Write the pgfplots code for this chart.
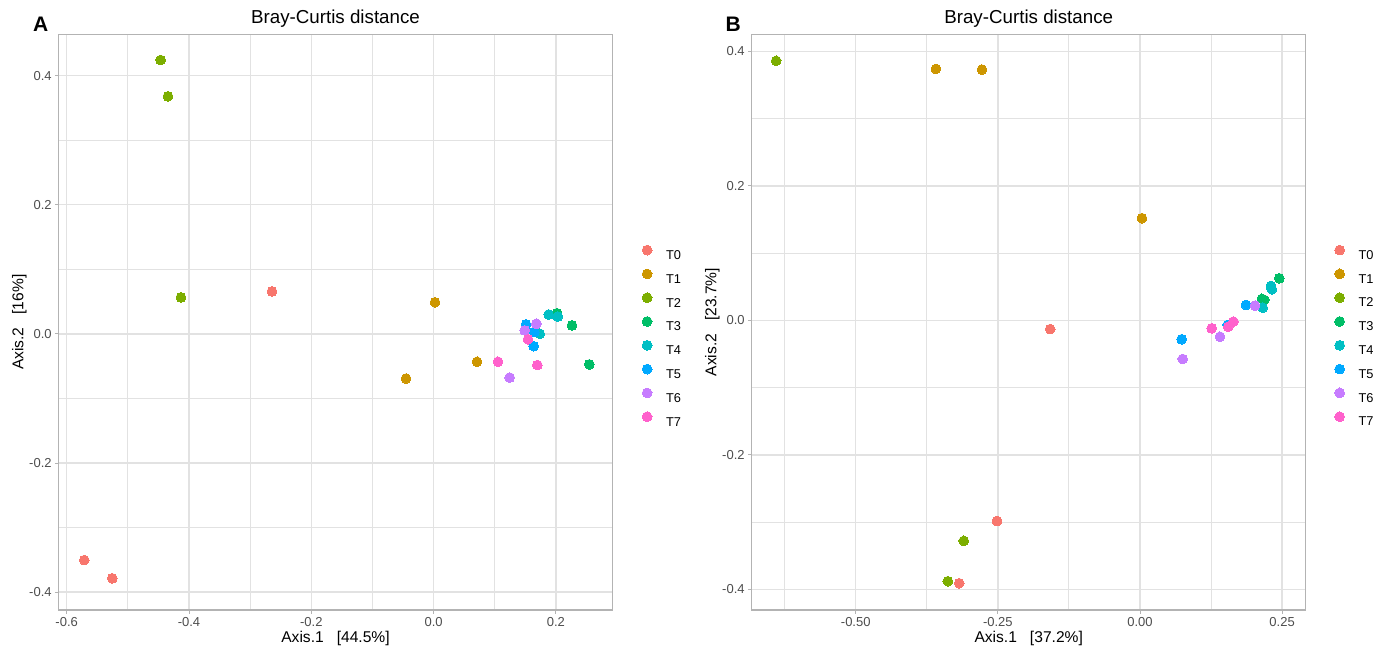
\documentclass[border=0pt]{standalone}
\usepackage{fontspec}
\setmainfont{Liberation Sans}
\usepackage{pgfplots}
\pgfplotsset{compat=1.18}
\definecolor{cT0}{HTML}{F8766D}
\definecolor{cT1}{HTML}{CD9600}
\definecolor{cT2}{HTML}{7CAE00}
\definecolor{cT3}{HTML}{00BE67}
\definecolor{cT4}{HTML}{00BFC4}
\definecolor{cT5}{HTML}{00A9FF}
\definecolor{cT6}{HTML}{C77CFF}
\definecolor{cT7}{HTML}{FF61CC}
\definecolor{gray70}{HTML}{B3B3B3}
\definecolor{gray87}{HTML}{E2E2E2}
\definecolor{gray30}{HTML}{4D4D4D}
\pgfplotsset{
  ordstyle/.style={
    scale only axis, height=575.7pt,
    anchor=south west,
    axis line style={draw=gray70, line width=1.4pt},
    grid=both,
    major grid style={draw=gray87, line width=1.5pt},
    minor grid style={draw=gray87, line width=0.9pt},
    tick align=outside, major tick length=3.9pt, minor tick length=0pt,
    tick style={draw=gray70, line width=0.9pt},
    xtick pos=left, ytick pos=left,
    tick label style={font=\fontsize{13}{13}\selectfont, text=gray30},
    xticklabel style={inner sep=3pt},
    yticklabel style={inner sep=3pt},
    label style={font=\fontsize{15.6}{17}\selectfont},
    xlabel style={at={(axis description cs:0.5,-0.0573)}, anchor=base},
    ylabel style={at={(axis description cs:-0.0636,0.5)}, anchor=base},
    title style={at={(axis description cs:0.5,1.0179)}, anchor=base, yshift=-6pt, font=\fontsize{18.75}{20}\selectfont},
    legend style={draw=none, fill=none, inner sep=0pt, anchor=north west,
      font=\fontsize{12.8}{13}\selectfont, row sep=9.6pt, column sep=14pt,
      nodes={inner sep=0pt, text height=9.4pt, text depth=0pt}},
    legend cell align=left,
    legend image code/.code={\draw[#1] plot coordinates {(0pt,4.6pt)};},
    every axis plot/.append style={only marks, mark=*, mark size=4.9pt, line width=0pt},
  }
}
\begin{document}
\begin{tikzpicture}
\useasboundingbox (0pt,0pt) rectangle (1389pt,652pt);
% ---------------- Panel A ----------------
\begin{axis}[ordstyle,
  at={(58.7pt,42pt)}, width=553.6pt,
  xmin=-0.613, xmax=0.2922, ymin=-0.4277, ymax=0.464,
  xtick={-0.6,-0.4,-0.2,0,0.2}, xticklabels={-0.6,-0.4,-0.2,0.0,0.2},
  minor xtick={-0.5,-0.3,-0.1,0.1},
  ytick={-0.4,-0.2,0,0.2,0.4}, yticklabels={-0.4,-0.2,0.0,0.2,0.4},
  minor ytick={-0.3,-0.1,0.1,0.3},
  xlabel={Axis.1~~~[44.5\%]}, ylabel={Axis.2~~~[16\%]},
  title={Bray-Curtis distance},
  legend style={at={(axis description cs:1.0537,0.6340)}},
]
\addplot[color=cT0] coordinates {(-0.5712,-0.3504) (-0.5254,-0.3786) (-0.2643,0.0657)};
\addplot[color=cT1] coordinates {(0.0023,0.0489) (-0.0451,-0.0692) (0.0710,-0.0432)};
\addplot[color=cT2] coordinates {(-0.4463,0.4242) (-0.4343,0.3679) (-0.4131,0.0565)};
\addplot[color=cT3] coordinates {(0.2018,0.0320) (0.2263,0.0131) (0.2546,-0.0473)};
\addplot[color=cT4] coordinates {(0.1882,0.0300) (0.2030,0.0269) (0.1735,0.0002)};
\addplot[color=cT5] coordinates {(0.1511,0.0146) (0.1647,0.0028) (0.1637,-0.0191)};
\addplot[color=cT6] coordinates {(0.1680,0.0156) (0.1490,0.0054) (0.1244,-0.0677)};
\addplot[color=cT7] coordinates {(0.1544,-0.0084) (0.1053,-0.0432) (0.1696,-0.0483)};
\legend{T0,T1,T2,T3,T4,T5,T6,T7}
\end{axis}
% ---------------- Panel B ----------------
\begin{axis}[ordstyle,
  at={(751.7pt,42pt)}, width=554pt,
  xmin=-0.683, xmax=0.2915, ymin=-0.4308, ymax=0.4255,
  xtick={-0.5,-0.25,0,0.25}, xticklabels={-0.50,-0.25,0.00,0.25},
  minor xtick={-0.625,-0.375,-0.125,0.125},
  ytick={-0.4,-0.2,0,0.2,0.4}, yticklabels={-0.4,-0.2,0.0,0.2,0.4},
  minor ytick={-0.3,-0.1,0.1,0.3},
  xlabel={Axis.1~~~[37.2\%]}, ylabel={Axis.2~~~[23.7\%]},
  title={Bray-Curtis distance},
  legend style={at={(axis description cs:1.0520,0.6340)}},
]
\addplot[color=cT0] coordinates {(-0.158,-0.013) (-0.2515,-0.2985) (-0.318,-0.391)};
\addplot[color=cT1] coordinates {(-0.359,0.374) (-0.278,0.373) (0.0035,0.152)};
\addplot[color=cT2] coordinates {(-0.640,0.386) (-0.310,-0.328) (-0.338,-0.388)};
\addplot[color=cT3] coordinates {(0.245,0.0626) (0.2187,0.0304) (0.2146,0.032)};
\addplot[color=cT4] coordinates {(0.2304,0.0512) (0.2320,0.0463) (0.2158,0.0189)};
\addplot[color=cT5] coordinates {(0.1865,0.0229) (0.1543,-0.0068) (0.0733,-0.0281)};
\addplot[color=cT6] coordinates {(0.2023,0.0219) (0.1407,-0.0243) (0.0751,-0.0574)};
\addplot[color=cT7] coordinates {(0.1261,-0.0118) (0.1553,-0.0094) (0.1642,-0.0019)};
\legend{T0,T1,T2,T3,T4,T5,T6,T7}
\end{axis}
\node[anchor=base west, inner sep=0pt, font=\fontsize{21}{21}\selectfont\bfseries] at (33pt,620pt) {A};
\node[anchor=base west, inner sep=0pt, font=\fontsize{21}{21}\selectfont\bfseries] at (725.5pt,620pt) {B};
\end{tikzpicture}
\end{document}
